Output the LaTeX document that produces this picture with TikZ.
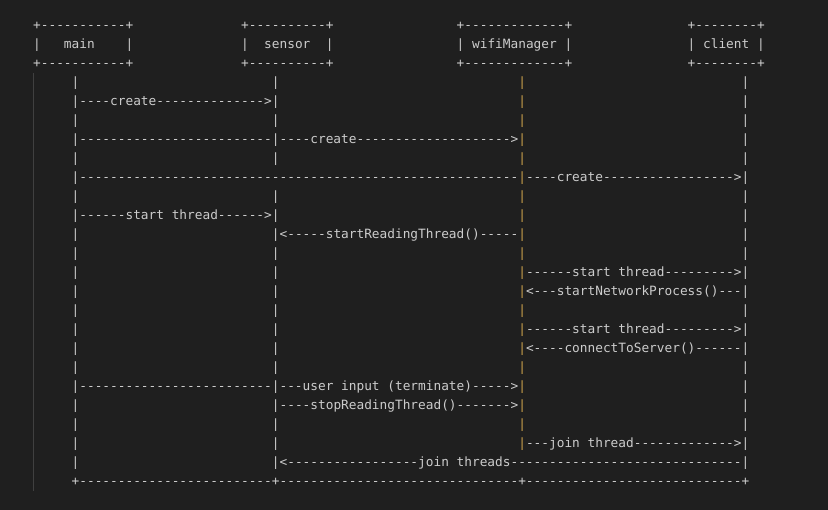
\documentclass[tikz,border=0pt]{standalone}
\usepackage{fontspec}
\setmonofont{DejaVu Sans Mono}
\usepackage{tikz}

\definecolor{bg}{HTML}{1F1F1F}
\definecolor{ink}{HTML}{CCCCCC}
\definecolor{gold}{HTML}{C9A04B}
\definecolor{guide}{HTML}{404040}
\newcommand{\gap}[1]{\hspace*{#1\fontcharwd\font`x}}
\newcommand{\wifibar}{\textcolor{gold}{|}}

\begin{document}
\begin{tikzpicture}[x = 1pt, y = 1pt,
                        row/.style = {anchor = base west, inner sep = 0pt, text = ink,
                                      font = \ttfamily\fontsize{12.79pt}{19pt}\selectfont}]
      \fill [bg] (0, 0) rectangle (828, 510);
      \useasboundingbox (0, 0) rectangle (828, 510);
      \coordinate (g1) at (33, 437);
      \coordinate (g2) at (33, 19);
      \draw [guide, line width = 1pt] (g1) -- (g2);
      % header boxes
      \node [row] (r0) at (33, 480.5){+-----------+\gap{14}+----------+\gap{16}+-------------+\gap{15}+--------+};
      \node [row] (r1) at (33, 461.5){|\gap{3}main\gap{4}|\gap{14}|\gap{2}sensor\gap{2}|\gap{16}|\gap{1}wifiManager\gap{1}|\gap{15}|\gap{1}client\gap{1}|};
      \node [row] (r2) at (33, 442.5){+-----------+\gap{14}+----------+\gap{16}+-------------+\gap{15}+--------+};
      % messages
      \node [row] (r3) at (33, 423.5){\gap{5}|\gap{25}|\gap{31}\wifibar\gap{28}|};
      \node [row] (r4) at (33, 404.5){\gap{5}|----create-------------->|\gap{31}\wifibar\gap{28}|};
      \node [row] (r5) at (33, 385.5){\gap{5}|\gap{25}|\gap{31}\wifibar\gap{28}|};
      \node [row] (r6) at (33, 366.5){\gap{5}|-------------------------|----create-------------------->\wifibar\gap{28}|};
      \node [row] (r7) at (33, 347.5){\gap{5}|\gap{25}|\gap{31}\wifibar\gap{28}|};
      \node [row] (r8) at (33, 328.5){\gap{5}|---------------------------------------------------------\wifibar----create----------------->|};
      \node [row] (r9) at (33, 309.5){\gap{5}|\gap{25}|\gap{31}\wifibar\gap{28}|};
      \node [row] (r10) at (33, 290.5){\gap{5}|------start thread------>|\gap{31}\wifibar\gap{28}|};
      \node [row] (r11) at (33, 271.5){\gap{5}|\gap{25}|<-----startReadingThread()-----\wifibar\gap{28}|};
      \node [row] (r12) at (33, 252.5){\gap{5}|\gap{25}|\gap{31}\wifibar\gap{28}|};
      \node [row] (r13) at (33, 233.5){\gap{5}|\gap{25}|\gap{31}\wifibar------start thread--------->|};
      \node [row] (r14) at (33, 214.5){\gap{5}|\gap{25}|\gap{31}\wifibar<---startNetworkProcess()---|};
      \node [row] (r15) at (33, 195.5){\gap{5}|\gap{25}|\gap{31}\wifibar\gap{28}|};
      \node [row] (r16) at (33, 176.5){\gap{5}|\gap{25}|\gap{31}\wifibar------start thread--------->|};
      \node [row] (r17) at (33, 157.5){\gap{5}|\gap{25}|\gap{31}\wifibar<----connectToServer()------|};
      \node [row] (r18) at (33, 138.5){\gap{5}|\gap{25}|\gap{31}\wifibar\gap{28}|};
      \node [row] (r19) at (33, 119.5){\gap{5}|-------------------------|---user input (terminate)----->\wifibar\gap{28}|};
      \node [row] (r20) at (33, 100.5){\gap{5}|\gap{25}|----stopReadingThread()------->\wifibar\gap{28}|};
      \node [row] (r21) at (33, 81.5){\gap{5}|\gap{25}|\gap{31}\wifibar\gap{28}|};
      \node [row] (r22) at (33, 62.5){\gap{5}|\gap{25}|\gap{31}\wifibar---join thread------------->|};
      \node [row] (r23) at (33, 43.5){\gap{5}|\gap{25}|<-----------------join threads------------------------------|};
      \node [row] (r24) at (33, 24.5){\gap{5}+-------------------------+-------------------------------+----------------------------+};
    \end{tikzpicture}
\end{document}
